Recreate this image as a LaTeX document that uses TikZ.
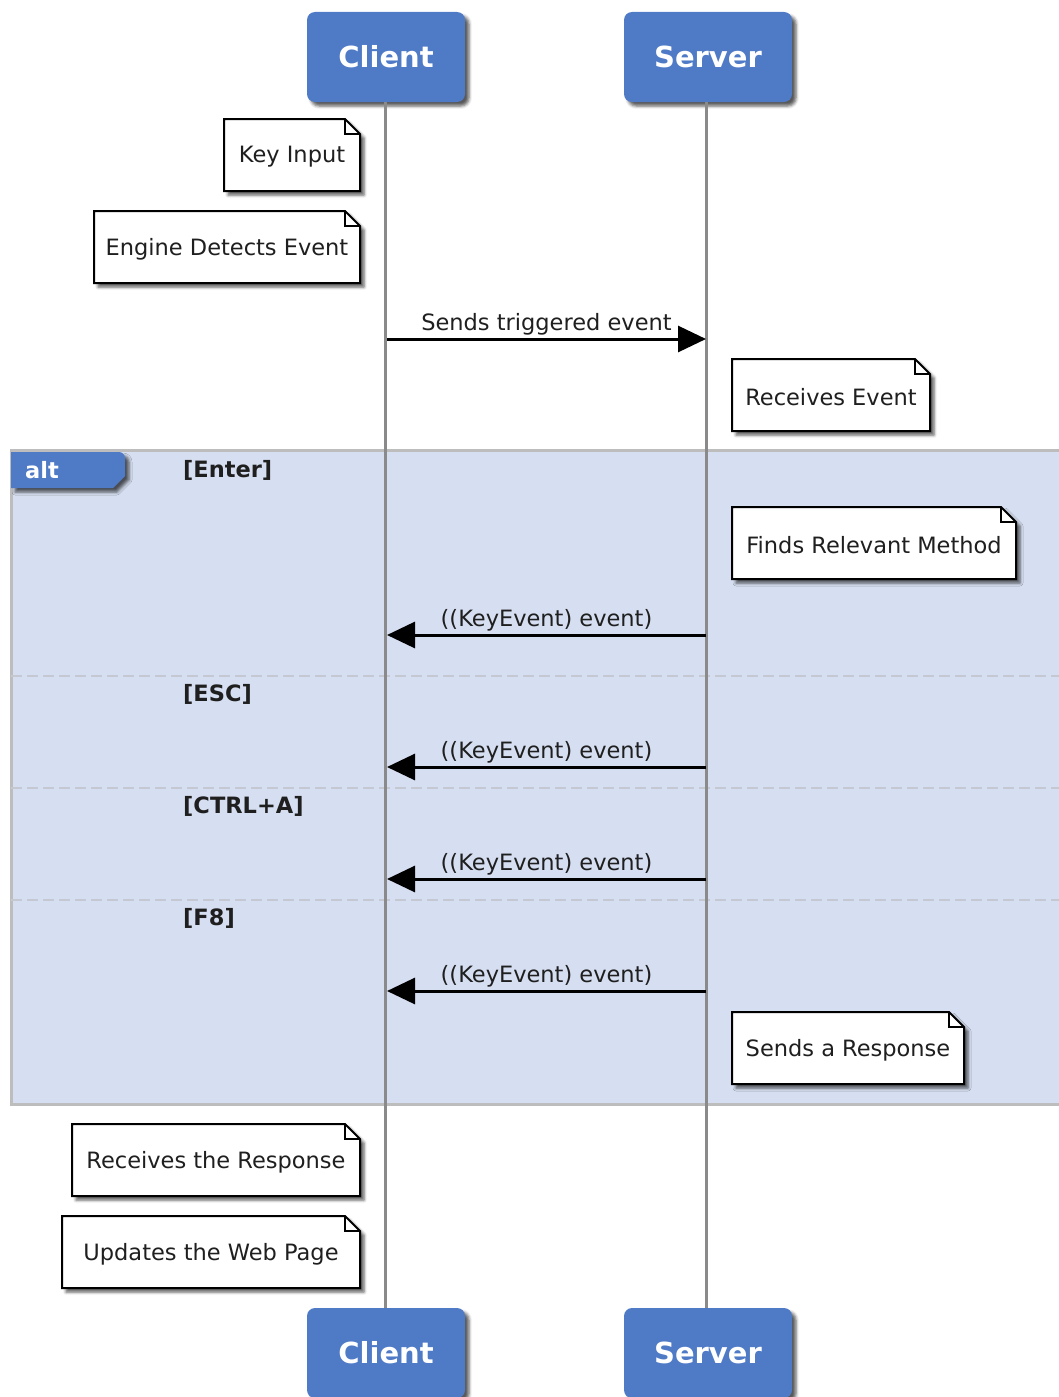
\documentclass[tikz,border=0pt]{standalone}
\usepackage{fontspec}
\setmainfont{DejaVu Sans}
\usetikzlibrary{arrows.meta,shadows.blur,calc}
\definecolor{hdrblue}{HTML}{4F7AC6}
\definecolor{altfill}{HTML}{D6DFF1}
\definecolor{lifegray}{HTML}{8A8A8A}
\definecolor{framegray}{HTML}{BDBDBD}
\definecolor{sepgray}{HTML}{C4C8D0}

% note with a folded top-right corner: name, x1, y1, x2, y2, text
\newcommand\notebox[6]{%
  \draw[noteline, fill=white, softshadow]
    (#2,#3) -- (#4-15,#3) -- (#4,#3+15) -- (#4,#5) -- (#2,#5) -- cycle;
  \draw[noteline] (#4-15,#3) -- (#4-15,#3+15) -- (#4,#3+15);
  \node[notetext] (#1) at ({(#2+#4)/2},{(#3+#5)/2+2}) {#6};
}

\begin{document}
\begin{tikzpicture}[x=1pt,y=-1pt,
  softshadow/.style={blur shadow={shadow xshift=4pt, shadow yshift=-4pt,
    shadow blur radius=3pt, shadow opacity=65}},
  header/.style={fill=hdrblue, rounded corners=8pt, minimum height=90pt,
    text=white, font=\fontsize{29}{34}\selectfont\bfseries, inner sep=0pt, softshadow},
  lifeline/.style={draw=lifegray, line width=3pt},
  noteline/.style={draw=black, line width=2pt, line join=miter},
  notetext/.style={font=\fontsize{22.5}{27}\selectfont, text=black!88, inner sep=0pt},
  msg/.style={draw=black, line width=3pt, -{Triangle[length=28pt, width=26pt]}},
  msglabel/.style={font=\fontsize{22.5}{27}\selectfont, text=black!88, inner sep=2pt},
  guard/.style={font=\fontsize{22.5}{27}\selectfont\bfseries, text=black!88, inner sep=0pt, anchor=west},
  separator/.style={draw=sepgray, line width=2.5pt, dash pattern=on 11pt off 5pt},
]
\useasboundingbox (0,0) rectangle (1059,1397);
\clip (0,0) rectangle (1059,1397);

% combined fragment (alt)
\fill[altfill] (11,450) rectangle (1075,1104);
\draw[framegray, line width=3pt] (1075,450) -- (11,450) -- (11,1104) -- (1075,1104);
\draw[separator] (11,676) -- (1075,676);
\draw[separator] (11,788) -- (1075,788);
\draw[separator] (11,900) -- (1075,900);

% participants
\node[header, minimum width=158pt] (cl) at (386,57) {Client};
\node[header, minimum width=168pt] (sv) at (708,57) {Server};
\node[header, minimum width=158pt] (clb) at (386,1353) {Client};
\node[header, minimum width=168pt] (svb) at (708,1353) {Server};

% lifelines
\coordinate (clt) at (385,102);
\coordinate (clbt) at (385,1308);
\coordinate (svt) at (706,102);
\coordinate (svbt) at (706,1308);
\draw[lifeline] (clt) -- (clbt);
\draw[lifeline] (svt) -- (svbt);

% alt tab
\fill[hdrblue, softshadow] (11,452) -- (119,452) to[out=0,in=90] (125,458) -- (125,476) -- (113,488) -- (11,488) -- cycle;
\node[font=\fontsize{22.5}{27}\selectfont\bfseries, text=white, anchor=west, inner sep=0pt] (alt) at (25,470) {alt};

% guards
\node[guard] (g1) at (183,470) {[Enter]};
\node[guard] (g2) at (183,694) {[ESC]};
\node[guard] (g3) at (183,806) {[CTRL+A]};
\node[guard] (g4) at (183,918) {[F8]};

% notes
\notebox{n1}{224}{119}{360}{191}{Key Input}
\notebox{n2}{94}{211}{360}{283}{Engine Detects Event}
\notebox{n3}{732}{359}{930}{431}{Receives Event}
\notebox{n4}{732}{507}{1016}{579}{Finds Relevant Method}
\notebox{n5}{732}{1012}{964}{1084}{Sends a Response}
\notebox{n6}{72}{1124}{360}{1196}{Receives the Response}
\notebox{n7}{62}{1216}{360}{1288}{Updates the Web Page}

% messages
\coordinate (c1) at (387,339);  \coordinate (s1) at (706,339);
\coordinate (c2) at (387,635);  \coordinate (s2) at (706,635);
\coordinate (c3) at (387,767);  \coordinate (s3) at (706,767);
\coordinate (c4) at (387,879);  \coordinate (s4) at (706,879);
\coordinate (c5) at (387,991);  \coordinate (s5) at (706,991);
\draw[msg] (c1) -- node[msglabel, above] {Sends triggered event} (s1);
\draw[msg] (s2) -- node[msglabel, above] {((KeyEvent) event)} (c2);
\draw[msg] (s3) -- node[msglabel, above] {((KeyEvent) event)} (c3);
\draw[msg] (s4) -- node[msglabel, above] {((KeyEvent) event)} (c4);
\draw[msg] (s5) -- node[msglabel, above] {((KeyEvent) event)} (c5);
\end{tikzpicture}
\end{document}
